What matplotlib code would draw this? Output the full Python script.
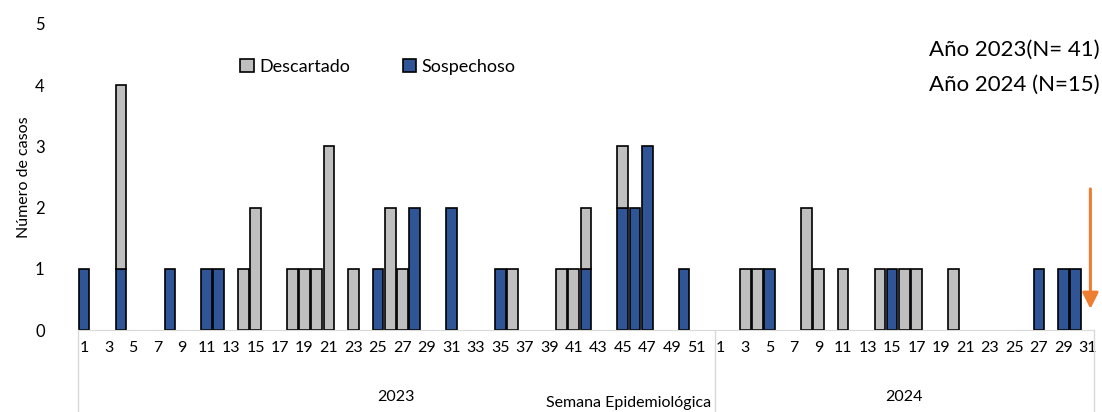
import matplotlib.pyplot as plt
from matplotlib.transforms import blended_transform_factory

plt.rcParams['font.family'] = ['Lato', 'DejaVu Sans']

# semanas epidemiologicas
weeks_2023 = list(range(1, 53))
weeks_2024 = list(range(1, 32))

sospechoso_2023 = [1, 0, 0, 1, 0, 0, 0, 1, 0, 0,
                   1, 1, 0, 0, 0, 0, 0, 0, 0, 0,
                   0, 0, 0, 0, 1, 0, 0, 2, 0, 0,
                   2, 0, 0, 0, 1, 0, 0, 0, 0, 0,
                   0, 1, 0, 0, 2, 2, 3, 0, 0, 1,
                   0, 0]
descartado_2023 = [0, 0, 0, 3, 0, 0, 0, 0, 0, 0,
                   0, 0, 0, 1, 2, 0, 0, 1, 1, 1,
                   3, 0, 1, 0, 0, 2, 1, 0, 0, 0,
                   0, 0, 0, 0, 0, 1, 0, 0, 0, 1,
                   1, 1, 0, 0, 1, 0, 0, 0, 0, 0,
                   0, 0]
sospechoso_2024 = [0, 0, 0, 0, 1, 0, 0, 0, 0, 0,
                   0, 0, 0, 0, 1, 0, 0, 0, 0, 0,
                   0, 0, 0, 0, 0, 0, 1, 0, 1, 1, 0]
descartado_2024 = [0, 0, 1, 1, 0, 0, 0, 2, 1, 0,
                   1, 0, 0, 1, 0, 1, 1, 0, 0, 1,
                   0, 0, 0, 0, 0, 0, 0, 0, 0, 0, 0]

years = ['2023', '2024']
annot_lines = ['Año 2023(N= 41)', 'Año 2024 (N=15)']

BLUE = '#2F5597'
GRAY = '#BFBFBF'

weeks = weeks_2023 + weeks_2024
sosp = sospechoso_2023 + sospechoso_2024
desc = descartado_2023 + descartado_2024
x = list(range(len(weeks)))

fig = plt.figure(figsize=(11.02, 4.12), dpi=100)
ax = fig.add_axes([0.0708, 0.199, 0.922, 0.743])

# solo barras con valor, para no dibujar bordes sobre el eje
xs = [i for i in x if sosp[i] > 0]
ax.bar(xs, [sosp[i] for i in xs], width=0.87, color=BLUE, edgecolor='black',
       linewidth=1.2, label='Sospechoso')
xd = [i for i in x if desc[i] > 0]
ax.bar(xd, [desc[i] for i in xd], bottom=[sosp[i] for i in xd], width=0.87, color=GRAY,
       edgecolor='black', linewidth=1.2, label='Descartado')

ax.set_xlim(-0.5, len(x) - 0.5)
ax.set_ylim(0, 5)
ax.set_yticks(range(6))
ax.tick_params(axis='y', length=0, labelsize=12, pad=24)
ax.set_xticks(x)
ax.set_xticklabels([str(w) if w % 2 == 1 else '' for w in weeks], fontsize=11.5)
ax.tick_params(axis='x', length=0, pad=8)

for s in ['top', 'right', 'left']:
    ax.spines[s].set_visible(False)
ax.spines['bottom'].set_color('#D9D9D9')

# separadores de año
trans = blended_transform_factory(ax.transData, ax.transAxes)
bounds = [-0.5, len(weeks_2023) - 0.5, len(x) - 0.5]
for b in bounds:
    ax.plot([b, b], [0, -0.27], color='#D9D9D9', lw=1, transform=trans, clip_on=False)
ax.text((len(weeks_2023) - 1) / 2, -0.22, years[0], transform=trans, ha='center', va='center',
        fontsize=11.5)
ax.text(len(weeks_2023) + (len(weeks_2024) - 1) / 2, -0.22, years[1], transform=trans,
        ha='center', va='center', fontsize=11.5)
ax.text(44.5, -0.24, 'Semana Epidemiológica', transform=trans, ha='center', va='center',
        fontsize=11.5)

ax.set_ylabel('Número de casos', fontsize=11.5, labelpad=3)

handles, labels = ax.get_legend_handles_labels()
fig.legend(handles[::-1], labels[::-1], loc='center', bbox_to_anchor=(0.343, 0.838), ncol=2,
           frameon=False, fontsize=13, handlelength=0.75, handleheight=0.75, handletextpad=0.3,
           columnspacing=2.9)

fig.text(0.998, 0.878, annot_lines[0], ha='right', va='center', fontsize=16)
fig.text(0.998, 0.793, annot_lines[1], ha='right', va='center', fontsize=16)

ax.annotate('', xy=(82.2, 0.3), xytext=(82.2, 2.35),
            arrowprops=dict(arrowstyle='-|>', color='#ED7D31', lw=2.2, mutation_scale=24),
            annotation_clip=False)

fig.savefig('out.png', dpi=100)
